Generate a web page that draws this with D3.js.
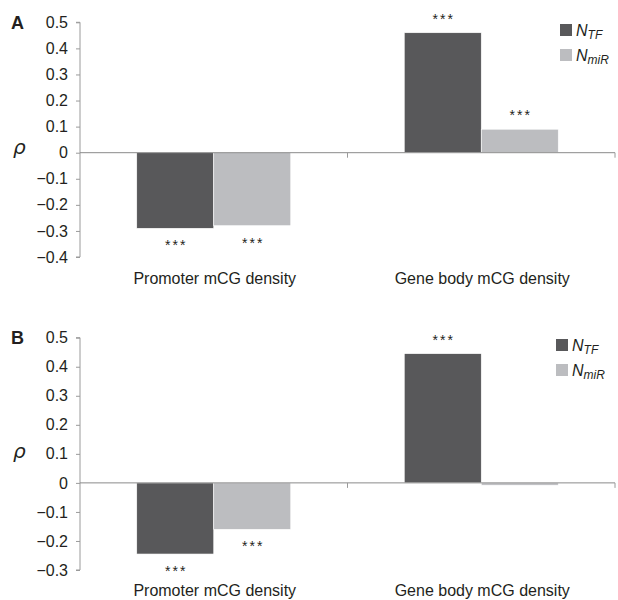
<!DOCTYPE html>
<html>
<head>
<meta charset="utf-8">
<script src="https://cdn.jsdelivr.net/npm/d3@7"></script>
<style>
  body { margin: 0; background: #fff; }
  svg { display: block; font-family: "Liberation Sans", Arial, sans-serif; }
</style>
</head>
<body>
<svg id="chart" width="618" height="600"></svg>
<script>
// ---- data ----
const categories = ["Promoter mCG density", "Gene body mCG density"];
const seriesKeys = ["NTF", "NmiR"];
const seriesSubs = ["TF", "miR"];
const seriesColors = ["#58585a", "#bcbdc0"];

const panelA_NTF = [-0.29, 0.46];
const panelA_NmiR = [-0.28, 0.09];
const panelA_sigNTF = ["***", "***"];
const panelA_sigNmiR = ["***", "***"];
const panelA_ticks = [-0.4, -0.3, -0.2, -0.1, 0, 0.1, 0.2, 0.3, 0.4, 0.5];

const panelB_NTF = [-0.245, 0.445];
const panelB_NmiR = [-0.16, -0.008];
const panelB_sigNTF = ["***", "***"];
const panelB_sigNmiR = ["***", ""];
const panelB_ticks = [-0.3, -0.2, -0.1, 0, 0.1, 0.2, 0.3, 0.4, 0.5];

const svg = d3.select("#chart");

function drawPanel(opt) {
  const g = svg.append("g");
  const ticks = opt.ticks;
  const y = d3.scaleLinear()
    .domain([d3.min(ticks), d3.max(ticks)])
    .range([opt.yBottom, opt.yTop]);
  const x0 = d3.scaleBand().domain(categories).range([80, 615]).paddingInner(0).paddingOuter(0);
  const x1 = d3.scaleBand().domain(seriesKeys).range([0, x0.bandwidth()]).paddingInner(0).paddingOuter(0.737);

  // y axis
  const yAxis = d3.axisLeft(y).tickValues(ticks).tickSize(4).tickPadding(8)
    .tickFormat(d => d === 0 ? "0" : d3.format(".1f")(d));
  const ya = g.append("g").attr("transform", "translate(80,0)").call(yAxis);
  ya.select(".domain").attr("stroke", "#9a9a9a").attr("d", `M-4,${y(d3.max(ticks))}H0V${y(d3.min(ticks))}H-4`);
  ya.selectAll(".tick line").attr("stroke", "#9a9a9a");
  ya.selectAll(".tick text").attr("fill", "#231f20").style("font-size", "16px")
    .style("font-family", "'Liberation Sans', Arial, sans-serif");

  // data rows
  const rows = categories.map((c, i) => ({
    cat: c,
    vals: [opt.ntf[i], opt.nmir[i]],
    sig: [opt.sigNtf[i], opt.sigNmir[i]]
  }));

  const grp = g.selectAll(".grp").data(rows).enter().append("g")
    .attr("transform", d => `translate(${x0(d.cat)},0)`);

  grp.selectAll("rect").data(d => d.vals.map((v, k) => ({ key: seriesKeys[k], v, k })))
    .enter().append("rect")
    .attr("x", d => x1(d.key))
    .attr("width", x1.bandwidth())
    .attr("y", d => y(Math.max(0, d.v)))
    .attr("height", d => Math.max(Math.abs(y(d.v) - y(0)), 0.8))
    .attr("fill", d => seriesColors[d.k])
    .attr("stroke", "#fff").attr("stroke-width", 0.6);

  grp.selectAll("text.sig").data(d => d.vals.map((v, k) => ({ key: seriesKeys[k], v, s: d.sig[k] })))
    .enter().append("text").attr("class", "sig")
    .attr("x", d => x1(d.key) + x1.bandwidth() / 2 + 1)
    .attr("y", d => d.v >= 0 ? y(d.v) - 9 : y(d.v) + 22)
    .attr("text-anchor", "middle")
    .style("font-size", "14px").style("letter-spacing", "2px").attr("fill", "#231f20")
    .text(d => d.s);

  // zero line (x axis)
  g.append("line").attr("x1", 80).attr("x2", 615).attr("y1", y(0)).attr("y2", y(0))
    .attr("stroke", "#8a8a8a").attr("stroke-width", 1);
  const boundaries = [x0(categories[1]), x0.range()[1]];
  g.selectAll(".xtick").data(boundaries).enter().append("line")
    .attr("x1", d => d).attr("x2", d => d)
    .attr("y1", y(0)).attr("y2", y(0) + 5)
    .attr("stroke", "#9a9a9a");

  // category labels
  g.selectAll(".cat").data(categories).enter().append("text")
    .attr("x", d => x0(d) + x0.bandwidth() / 2 + 1)
    .attr("y", opt.catY)
    .attr("text-anchor", "middle")
    .style("font-size", "16px").attr("fill", "#231f20")
    .text(d => d);

  // panel letter
  g.append("text").attr("x", 11).attr("y", opt.letterY)
    .style("font-size", "18px").style("font-weight", "bold").attr("fill", "#231f20")
    .text(opt.letter);
  // rho
  g.append("text").attr("x", 13).attr("y", opt.rhoY)
    .style("font-size", "20px").style("font-style", "italic").attr("fill", "#231f20")
    .style("font-family", "'DejaVu Sans', sans-serif")
    .text("ρ");

  // legend
  const lg = g.append("g").attr("transform", `translate(${opt.legX},${opt.legY})`);
  seriesKeys.forEach((k, i) => {
    lg.append("rect").attr("x", 0).attr("y", i * 25).attr("width", 12).attr("height", 12)
      .attr("fill", seriesColors[i]);
    const t = lg.append("text").attr("x", 16).attr("y", i * 25 + 12)
      .style("font-size", "16px").style("font-style", "italic").attr("fill", "#231f20");
    t.append("tspan").text("N");
    t.append("tspan").attr("dy", 3).style("font-size", "12px").text(seriesSubs[i]);
  });
}

drawPanel({
  letter: "A", ticks: panelA_ticks, yTop: 22.3, yBottom: 257,
  ntf: panelA_NTF, nmir: panelA_NmiR, sigNtf: panelA_sigNTF, sigNmir: panelA_sigNmiR,
  catY: 284, letterY: 29, rhoY: 154, legX: 560, legY: 24
});
drawPanel({
  letter: "B", ticks: panelB_ticks, yTop: 337.7, yBottom: 570,
  ntf: panelB_NTF, nmir: panelB_NmiR, sigNtf: panelB_sigNTF, sigNmir: panelB_sigNmiR,
  catY: 596, letterY: 344, rhoY: 458, legX: 556, legY: 339
});
</script>
</body>
</html>
